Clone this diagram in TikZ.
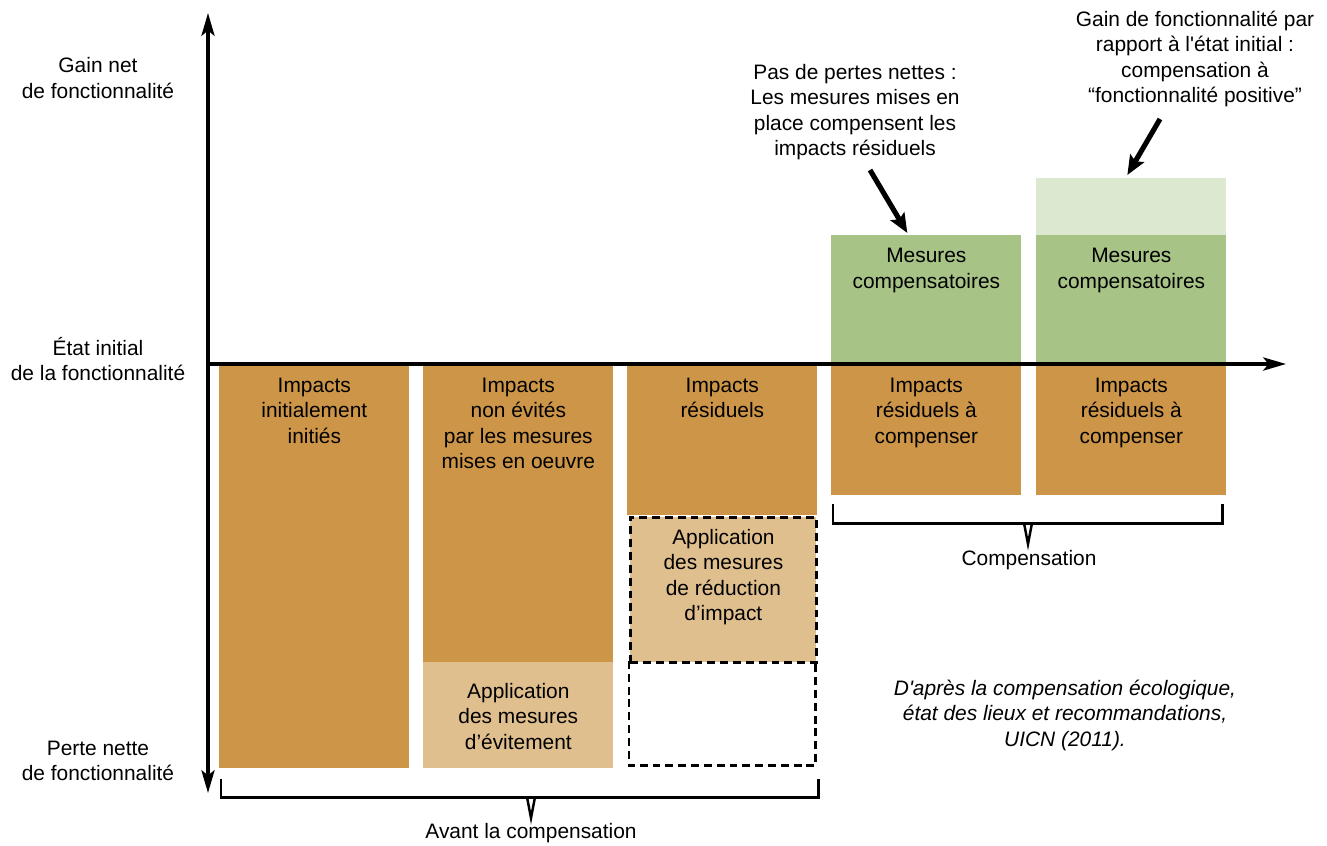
\documentclass[tikz,border=0pt]{standalone}
\usepackage{fontspec}
\setmainfont{Liberation Sans}
\usepackage{tikz}
\usetikzlibrary{arrows.meta, positioning, calc}
\definecolor{impactbrown}{RGB}{205,149,72}
\definecolor{impacttan}{RGB}{224,191,142}
\definecolor{measuregreen}{RGB}{167,195,134}
\definecolor{gainpale}{RGB}{220,232,208}

\begin{document}
\begin{tikzpicture}[
    x=0.02cm, y=-0.02cm,
    every node/.style={
        font=\fontsize{11.9}{14.5}\selectfont,
        align=center, inner sep=0pt
    },
    bar/.style={
        rectangle, anchor=north west,
        minimum width=3.8cm
    },
    impact/.style={bar, fill=impactbrown},
    avoided/.style={bar, fill=impacttan},
    measure/.style={bar, fill=measuregreen},
    gain/.style={bar, fill=gainpale},
    dashline/.style={
        draw=black, line width=1.6pt,
        dash pattern=on 4.5pt off 2.8pt
    },
    dashbox/.style={
        rectangle, anchor=north west,
        minimum width=3.72cm
    },
    axis/.style={line width=1.8pt, -{Stealth[length=13pt, width=7.5pt, inset=3pt]}},
    pointer/.style={line width=2.9pt, -{Stealth[length=11pt, width=9pt, inset=2pt]}},
    brace/.style={line width=1.4pt}
]
\useasboundingbox (0,0) rectangle (1327,845);

% --- bars below the initial state ---
\node[impact, minimum height=8.04cm] (c1)  at (219,366) {};
\node[impact, minimum height=5.92cm] (c2a) at (423,366) {};
\node[avoided, minimum height=2.12cm] (c2b) at (423,662) {};
\node[impact, minimum height=2.98cm] (c3a) at (627,366) {};
\node[dashbox, fill=impacttan, dashline, minimum height=2.9cm] (c3b) at (629,516) {};
\node[dashbox, minimum height=2.08cm] (c3c) at (629,661) {};
\draw[dashline] (c3c.north west) |- (c3c.south east) -- (c3c.north east);
\node[impact, minimum height=2.58cm] (c4b) at (831,366) {};
\node[impact, minimum height=2.58cm] (c5b) at (1036,366) {};

% --- compensation measures above ---
\node[measure, minimum height=2.58cm] (c4a) at (831,235) {};
\node[measure, minimum height=2.58cm] (c5a) at (1036,235) {};
\node[gain, minimum height=1.14cm] (c5g) at (1036,178) {};

% --- texts inside the bars ---
\node[below=0.23cm of c1.north]  (c1t)  {Impacts\\initialement\\initiés};
\node[below=0.23cm of c2a.north] (c2at) {Impacts\\non évités\\par les mesures\\mises en oeuvre};
\node[below=0.42cm of c2b.north] (c2bt) {Application\\des mesures\\d’évitement};
\node[below=0.23cm of c3a.north] (c3at) {Impacts\\résiduels};
\node[below=0.26cm of c3b.north] (c3bt) {Application\\des mesures\\de réduction\\d’impact};
\node[below=0.26cm of c4a.north] (c4at) {Mesures\\compensatoires};
\node[below=0.26cm of c5a.north] (c5at) {Mesures\\compensatoires};
\node[below=0.23cm of c4b.north] (c4bt) {Impacts\\résiduels à\\compenser};
\node[below=0.23cm of c5b.north] (c5bt) {Impacts\\résiduels à\\compenser};

% --- axes ---
\coordinate (origin) at (208,364);
\coordinate (ytop)   at (208,13);
\coordinate (ybot)   at (208,793);
\coordinate (xend)   at (1286,364);
\draw[axis] (origin) -- (ytop);
\draw[axis] (origin) -- (ybot);
\draw[axis] (origin) -- (xend);

% --- axis labels ---
\node (gainlbl)  at (98,78)  {Gain net\\de fonctionnalité};
\node (statelbl) at (98,359) {État initial\\de la fonctionnalité};
\node (losslbl)  at (98,761) {Perte nette\\de fonctionnalité};

% --- braces ---
\coordinate (avantmid) at (531,797);
\draw[brace] ($(c1.south west)+(2,10)$) |- ($(c3c.south east)+(3,32)$) -- ++(0,-19);
\draw[brace] ($(avantmid)+(-4,0)$) -- ++(4,21) -- ++(4,-21);
\node (avant) at (531,833) {Avant la compensation};

\coordinate (compmid) at (1028,523);
\draw[brace] ($(c4b.south west)+(2,8)$) |- ($(c5b.south east)+(-4,28)$) -- ++(0,-20);
\draw[brace] ($(compmid)+(-4,0)$) -- ++(4,21) -- ++(4,-21);
\node (comp) at (1029,560) {Compensation};

% --- annotations ---
\node (ann1) at (855,112) {Pas de pertes nettes :\\Les mesures mises en\\place compensent les\\impacts résiduels};
\node (ann2) at (1195,59) {Gain de fonctionnalité par\\rapport à l\textquotesingle état initial :\\compensation à\\“fonctionnalité positive”};
\coordinate (ann1tip) at (870,170);
\coordinate (ann2tip) at (1160,119);
\draw[pointer] (ann1tip) -- ($(c4a.north)+(-19,-2)$);
\draw[pointer] (ann2tip) -- ($(c5g.north)+(-4,-3)$);

% --- source ---
\node[font=\fontsize{11.9}{14.5}\selectfont\itshape] (source) at (1065,715)
    {D\textquotesingle après la compensation écologique,\\état des lieux et recommandations,\\UICN (2011).};

\end{tikzpicture}
\end{document}
